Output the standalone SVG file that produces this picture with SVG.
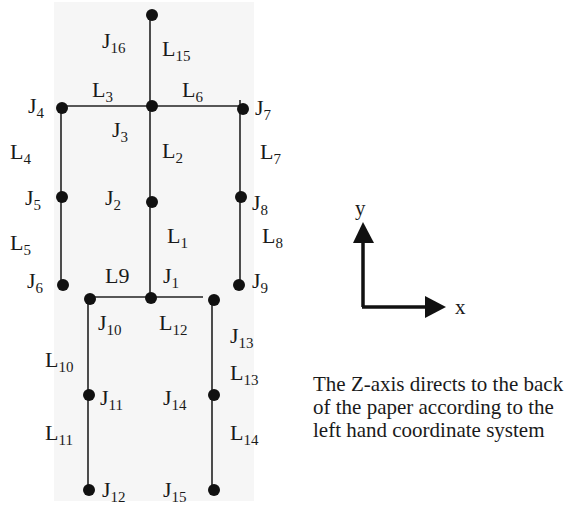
<svg xmlns="http://www.w3.org/2000/svg" width="567" height="506" viewBox="0 0 567 506">
<style>
  text { font-family: "Liberation Serif", "Times New Roman", serif; fill: #1a1a1a; }
  .lb { font-size: 22px; }
  .sb { font-size: 15px; }
  .body { font-size: 21px; }
  .dot { fill: #111; }
  .ln { stroke: #222; stroke-width: 1.6; fill: none; }
  .ax { stroke: #111; stroke-width: 3.5; fill: none; }
</style>
<defs>
  <marker id="ah" markerWidth="6" markerHeight="6" refX="0" refY="3" orient="auto" markerUnits="userSpaceOnUse" viewBox="0 0 6 6">
    <path d="M0,0 L6,3 L0,6 z" fill="#111"/>
  </marker>
</defs>
<rect x="54" y="2" width="200" height="499" fill="#f6f6f6"/>

<g id="connectors">
  <line class="ln" x1="150" y1="15" x2="150" y2="298"/>
  <line class="ln" x1="62" y1="106" x2="240" y2="106"/>
  <line class="ln" x1="61" y1="106" x2="61" y2="285"/>
  <line class="ln" x1="240" y1="100" x2="240" y2="285"/>
  <line class="ln" x1="88" y1="297" x2="203" y2="297"/>
  <line class="ln" x1="88" y1="297" x2="88" y2="490"/>
  <line class="ln" x1="212" y1="300" x2="212" y2="490"/>
</g>

<g id="link-labels">
  <text class="lb" x="162" y="56">L<tspan class="sb" dy="5">15</tspan></text>
  <text class="lb" x="92" y="97">L<tspan class="sb" dy="5">3</tspan></text>
  <text class="lb" x="182" y="97">L<tspan class="sb" dy="5">6</tspan></text>
  <text class="lb" x="162" y="158">L<tspan class="sb" dy="5">2</tspan></text>
  <text class="lb" x="10" y="159">L<tspan class="sb" dy="5">4</tspan></text>
  <text class="lb" x="260" y="159">L<tspan class="sb" dy="5">7</tspan></text>
  <text class="lb" x="167" y="243">L<tspan class="sb" dy="5">1</tspan></text>
  <text class="lb" x="10" y="250">L<tspan class="sb" dy="5">5</tspan></text>
  <text class="lb" x="262" y="243">L<tspan class="sb" dy="5">8</tspan></text>
  <text class="lb" x="105" y="283">L9</text>
  <text class="lb" x="159" y="330">L<tspan class="sb" dy="5">12</tspan></text>
  <text class="lb" x="45" y="367">L<tspan class="sb" dy="5">10</tspan></text>
  <text class="lb" x="230" y="380">L<tspan class="sb" dy="5">13</tspan></text>
  <text class="lb" x="45" y="440">L<tspan class="sb" dy="5">11</tspan></text>
  <text class="lb" x="230" y="440">L<tspan class="sb" dy="5">14</tspan></text>
</g>

<g id="head"><circle class="dot" cx="152" cy="15" r="6"/></g>
<g id="J16"><text class="lb" x="102" y="48">J<tspan class="sb" dy="5">16</tspan></text></g>
<g id="J3"><circle class="dot" cx="152" cy="106" r="6"/><text class="lb" x="112" y="137">J<tspan class="sb" dy="5">3</tspan></text></g>
<g id="J4"><circle class="dot" cx="62" cy="108" r="6"/><text class="lb" x="28" y="113">J<tspan class="sb" dy="5">4</tspan></text></g>
<g id="J7"><circle class="dot" cx="243" cy="109" r="6"/><text class="lb" x="255" y="115">J<tspan class="sb" dy="5">7</tspan></text></g>
<g id="J5"><circle class="dot" cx="62" cy="197" r="6"/><text class="lb" x="25" y="205">J<tspan class="sb" dy="5">5</tspan></text></g>
<g id="J2"><circle class="dot" cx="152" cy="202" r="6"/><text class="lb" x="105" y="205">J<tspan class="sb" dy="5">2</tspan></text></g>
<g id="J8"><circle class="dot" cx="241" cy="197" r="6"/><text class="lb" x="252" y="210">J<tspan class="sb" dy="5">8</tspan></text></g>
<g id="J6"><circle class="dot" cx="63" cy="285" r="6"/><text class="lb" x="27" y="288">J<tspan class="sb" dy="5">6</tspan></text></g>
<g id="J9"><circle class="dot" cx="239" cy="285" r="6"/><text class="lb" x="252" y="288">J<tspan class="sb" dy="5">9</tspan></text></g>
<g id="J1"><circle class="dot" cx="151" cy="298" r="6"/><text class="lb" x="163" y="283">J<tspan class="sb" dy="5">1</tspan></text></g>
<g id="J10"><circle class="dot" cx="90" cy="299" r="6"/><text class="lb" x="98" y="330">J<tspan class="sb" dy="5">10</tspan></text></g>
<g id="J13"><circle class="dot" cx="214" cy="300" r="6"/><text class="lb" x="230" y="343">J<tspan class="sb" dy="5">13</tspan></text></g>
<g id="J11"><circle class="dot" cx="89" cy="395" r="6"/><text class="lb" x="100" y="405">J<tspan class="sb" dy="5">11</tspan></text></g>
<g id="J14"><circle class="dot" cx="214" cy="395" r="6"/><text class="lb" x="163" y="405">J<tspan class="sb" dy="5">14</tspan></text></g>
<g id="J12"><circle class="dot" cx="89" cy="490" r="6"/><text class="lb" x="102" y="497">J<tspan class="sb" dy="5">12</tspan></text></g>
<g id="J15"><circle class="dot" cx="214" cy="490" r="6"/><text class="lb" x="163" y="497">J<tspan class="sb" dy="5">15</tspan></text></g>

<g id="axes">
  <line class="ax" x1="363" y1="307" x2="363" y2="242"/>
  <polygon points="363,222 353,243 374,243" fill="#111"/>
  <line class="ax" x1="362" y1="307" x2="427" y2="307"/>
  <polygon points="446,307 425,296 425,318" fill="#111"/>
  <text class="body" x="355" y="215">y</text>
  <text class="body" x="455" y="314">x</text>
</g>

<g id="note">
  <text class="body" x="313" y="391">The Z-axis directs to the back</text>
  <text class="body" x="313" y="414">of the paper according to the</text>
  <text class="body" x="313" y="437">left hand coordinate system</text>
</g>
</svg>
